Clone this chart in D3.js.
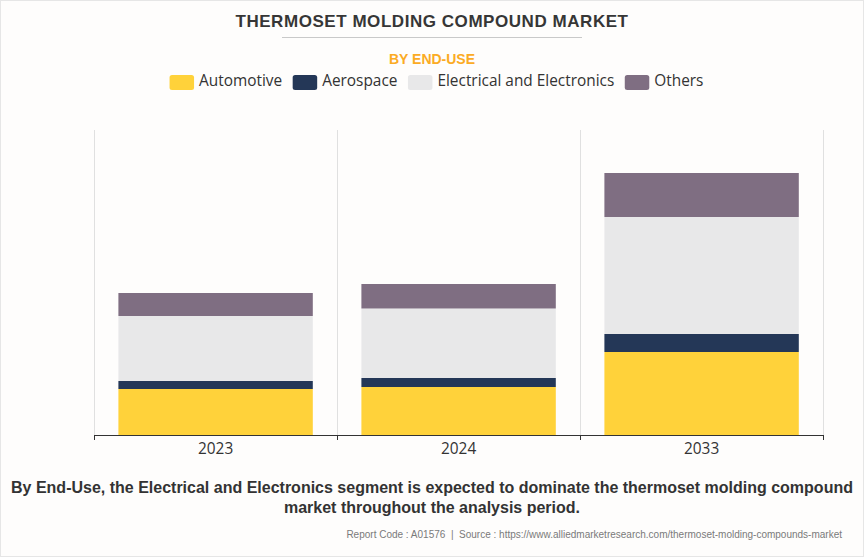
<!DOCTYPE html>
<html>
<head>
<meta charset="utf-8">
<script src="https://cdn.jsdelivr.net/npm/d3@7"></script>
<style>
  html, body { margin: 0; padding: 0; background: #fff; }
  svg { display: block; }
</style>
</head>
<body>
<script>
const years = ["2023", "2024", "2033"];
const segments = ["Automotive", "Aerospace", "Electrical and Electronics", "Others"];
const colors = ["#ffd23a", "#243757", "#e8e8e9", "#7f6e82"];

// no value axis in the picture, so these are estimates from bar heights
const automotive = [0.46, 0.48, 0.83];
const aerospace = [0.08, 0.09, 0.18];
const electrical = [0.65, 0.695, 1.17];
const others = [0.23, 0.245, 0.44];
const seriesValues = [automotive, aerospace, electrical, others];

const title = "THERMOSET MOLDING COMPOUND MARKET";
const subtitle = "BY END-USE";
const takeaway = [
  "By End-Use, the Electrical and Electronics segment is expected to dominate the thermoset molding compound",
  "market throughout the analysis period."
];
const source = "Report Code : A01576  |  Source : https://www.alliedmarketresearch.com/thermoset-molding-compounds-market";

const width = 864, height = 557;
const plotLeft = 94.5, plotRight = 823.5, plotTop = 130, plotBottom = 435;

const svg = d3.select("body").append("svg")
  .attr("width", width)
  .attr("height", height);

svg.append("rect")
  .attr("x", 0.5).attr("y", 0.5)
  .attr("width", width - 1).attr("height", height - 1)
  .attr("fill", "#fefdfc")
  .attr("stroke", "#e6e6e6");

const x = d3.scaleBand().domain(years).range([plotLeft, plotRight]).paddingInner(0.2).paddingOuter(0.1);
const y = d3.scaleLinear().domain([0, 3.05]).range([plotBottom, plotTop]);

const rows = years.map((yr, i) => {
  const row = { year: yr };
  segments.forEach((s, j) => { row[s] = seriesValues[j][i]; });
  return row;
});
const stacked = d3.stack().keys(segments)(rows);

// vertical separators at the band edges
const edges = years.map((d, i) => plotLeft + i * x.step()).concat([plotRight]);
svg.append("g").selectAll("line")
  .data(edges)
  .enter()
  .append("line")
  .attr("x1", d => d).attr("x2", d => d)
  .attr("y1", plotTop).attr("y2", plotBottom)
  .attr("stroke", "#e0e0e0");

svg.append("g").selectAll("g")
  .data(stacked)
  .enter()
  .append("g")
  .attr("fill", (d, i) => colors[i])
  .selectAll("rect")
  .data(d => d)
  .enter()
  .append("rect")
  .attr("x", d => x(d.data.year) - 0.4)
  .attr("y", d => y(d[1]))
  .attr("width", x.bandwidth())
  .attr("height", d => y(d[0]) - y(d[1]));

// axis line and ticks
const axis = svg.append("g");
axis.append("line")
  .attr("x1", plotLeft).attr("x2", plotRight)
  .attr("y1", plotBottom + 0.5).attr("y2", plotBottom + 0.5)
  .attr("stroke", "#333");
axis.selectAll(".tick")
  .data(edges)
  .enter()
  .append("line")
  .attr("class", "tick")
  .attr("x1", d => d).attr("x2", d => d)
  .attr("y1", plotBottom).attr("y2", plotBottom + 5)
  .attr("stroke", "#333");
axis.selectAll("text")
  .data(years)
  .enter()
  .append("text")
  .attr("x", d => x(d) + x.bandwidth() / 2 - 0.4)
  .attr("y", 454)
  .attr("text-anchor", "middle")
  .attr("font-family", "'Open Sans', sans-serif")
  .attr("font-size", 15.4)
  .attr("fill", "#333")
  .text(d => d);

svg.append("text")
  .attr("x", 432).attr("y", 27)
  .attr("text-anchor", "middle")
  .attr("font-family", "'Liberation Sans', Arial, sans-serif")
  .attr("font-weight", "bold")
  .attr("font-size", 17)
  .attr("letter-spacing", 0.55)
  .attr("fill", "#363636")
  .text(title);

svg.append("line")
  .attr("x1", 282).attr("x2", 582)
  .attr("y1", 37.5).attr("y2", 37.5)
  .attr("stroke", "#c9c9c9");

svg.append("text")
  .attr("x", 432).attr("y", 63.5)
  .attr("text-anchor", "middle")
  .attr("font-family", "'Liberation Sans', Arial, sans-serif")
  .attr("font-weight", "bold")
  .attr("font-size", 14)
  .attr("fill", "#fbab24")
  .text(subtitle);

// legend, laid out from the measured text widths and centred
const legend = svg.append("g");
let cursor = 0;
segments.forEach((s, i) => {
  const item = legend.append("g").attr("transform", "translate(" + cursor + ",0)");
  item.append("rect")
    .attr("y", 75).attr("width", 24.5).attr("height", 15).attr("rx", 2.5)
    .attr("fill", colors[i]);
  const label = item.append("text")
    .attr("x", 29.5).attr("y", 86)
    .attr("font-family", "'Open Sans', sans-serif")
    .attr("font-size", 15.4)
    .attr("fill", "#333")
    .text(s);
  cursor += 29.5 + label.node().getComputedTextLength() + 10.5;
});
legend.attr("transform", "translate(" + (436.5 - (cursor - 10.5) / 2) + ",0)");

svg.selectAll(".takeaway")
  .data(takeaway)
  .enter()
  .append("text")
  .attr("class", "takeaway")
  .attr("x", 432)
  .attr("y", (d, i) => 493 + i * 20)
  .attr("text-anchor", "middle")
  .attr("font-family", "'Liberation Sans', Arial, sans-serif")
  .attr("font-weight", "bold")
  .attr("font-size", 16)
  .attr("fill", "#333")
  .text(d => d);

svg.append("text")
  .attr("x", 842).attr("y", 538)
  .attr("text-anchor", "end")
  .attr("font-family", "'Liberation Sans', Arial, sans-serif")
  .attr("font-size", 10)
  .attr("fill", "#7a7a7a")
  .style("white-space", "pre")
  .text(source);
</script>
</body>
</html>
